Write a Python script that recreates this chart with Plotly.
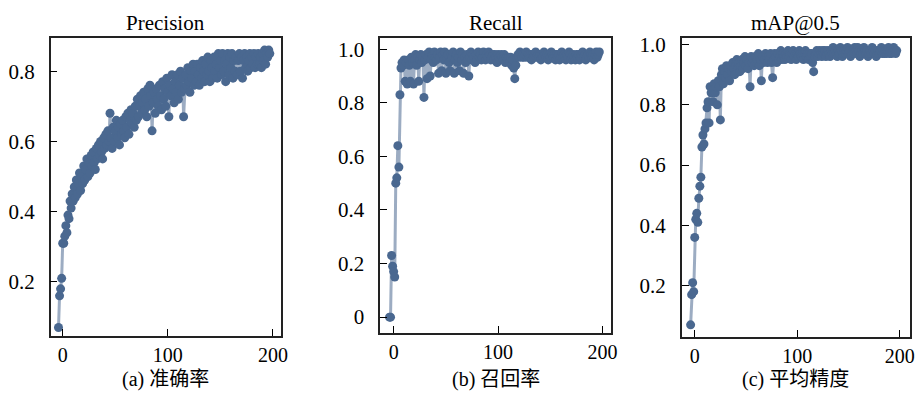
import plotly.graph_objects as go

epochs = list(range(-4, 198))

precision = [
    0.07, 0.16, 0.18, 0.21, 0.31, 0.31, 0.33, 0.36, 0.34, 0.39,
    0.38, 0.43, 0.41, 0.45, 0.43, 0.47, 0.44, 0.49, 0.45, 0.48,
    0.51, 0.46, 0.50, 0.48, 0.53, 0.49, 0.52, 0.55, 0.50, 0.54,
    0.51, 0.56, 0.53, 0.57, 0.54, 0.52, 0.58, 0.55, 0.59, 0.56,
    0.60, 0.57, 0.55, 0.61, 0.58, 0.62, 0.59, 0.63, 0.60, 0.68,
    0.61, 0.58, 0.64, 0.60, 0.63, 0.66, 0.61, 0.64, 0.59, 0.65,
    0.62, 0.66, 0.63, 0.61, 0.67, 0.64, 0.68, 0.62, 0.66, 0.69,
    0.65, 0.68, 0.64, 0.70, 0.66, 0.72, 0.67, 0.70, 0.73, 0.68,
    0.71, 0.74, 0.69, 0.72, 0.67, 0.75, 0.70, 0.76, 0.73, 0.63,
    0.71, 0.74, 0.68, 0.75, 0.72, 0.70, 0.76, 0.73, 0.69, 0.77,
    0.72, 0.75, 0.70, 0.78, 0.74, 0.67, 0.76, 0.73, 0.79, 0.75,
    0.71, 0.77, 0.74, 0.79, 0.72, 0.76, 0.80, 0.74, 0.78, 0.67,
    0.75, 0.79, 0.76, 0.81, 0.77, 0.74, 0.80, 0.78, 0.82, 0.76,
    0.80, 0.77, 0.82, 0.79, 0.76, 0.81, 0.78, 0.83, 0.80, 0.77,
    0.82, 0.79, 0.84, 0.80, 0.77, 0.83, 0.81, 0.78, 0.84, 0.80,
    0.82, 0.78, 0.85, 0.81, 0.83, 0.79, 0.85, 0.80, 0.83, 0.77,
    0.82, 0.85, 0.79, 0.84, 0.81, 0.85, 0.78, 0.83, 0.80, 0.84,
    0.79, 0.83, 0.85, 0.80, 0.84, 0.78, 0.83, 0.85, 0.81, 0.84,
    0.80, 0.83, 0.85, 0.81, 0.84, 0.82, 0.85, 0.81, 0.84, 0.82,
    0.85, 0.82, 0.84, 0.81, 0.85, 0.83, 0.86, 0.82, 0.85, 0.84,
    0.86, 0.85,
]

recall = [
    0.00, 0.00, 0.23, 0.19, 0.17, 0.15, 0.50, 0.52, 0.64, 0.56,
    0.83, 0.93, 0.95, 0.94, 0.96, 0.88, 0.95, 0.87, 0.96, 0.94,
    0.88, 0.97, 0.95, 0.87, 0.96, 0.98, 0.94, 0.97, 0.88, 0.96,
    0.98, 0.95, 0.97, 0.82, 0.96, 0.98, 0.89, 0.97, 0.99, 0.90,
    0.96, 0.98, 0.95, 0.99, 0.97, 0.96, 0.98, 0.91, 0.97, 0.99,
    0.92, 0.98, 0.96, 0.99, 0.91, 0.97, 0.98, 0.95, 0.92, 0.98,
    0.97, 0.99, 0.91, 0.96, 0.98, 0.95, 0.97, 0.92, 0.99, 0.96,
    0.98, 0.91, 0.97, 0.95, 0.98, 0.96, 0.90, 0.97, 0.99, 0.96,
    0.98, 0.97, 0.95, 0.98, 0.96, 0.99, 0.97, 0.98, 0.96, 0.97,
    0.99, 0.97, 0.96, 0.98, 0.97, 0.99, 0.98, 0.96, 0.97, 0.98,
    0.96, 0.98, 0.97, 0.95, 0.98, 0.97, 0.96, 0.98, 0.97, 0.96,
    0.98, 0.95, 0.97, 0.96, 0.97, 0.95, 0.97, 0.94, 0.96, 0.93,
    0.89, 0.94, 0.97, 0.98, 0.97, 0.99, 0.98, 0.97, 0.98, 0.97,
    0.98, 0.99, 0.97, 0.98, 0.97, 0.98, 0.96, 0.98, 0.97, 0.98,
    0.99, 0.97, 0.98, 0.97, 0.98, 0.96, 0.98, 0.97, 0.99, 0.98,
    0.97, 0.98, 0.96, 0.98, 0.97, 0.99, 0.98, 0.97, 0.98, 0.96,
    0.98, 0.97, 0.98, 0.96, 0.97, 0.99, 0.97, 0.98, 0.97, 0.96,
    0.98, 0.97, 0.99, 0.98, 0.96, 0.97, 0.98, 0.97, 0.96, 0.98,
    0.97, 0.98, 0.96, 0.97, 0.98, 0.99, 0.97, 0.98, 0.96, 0.97,
    0.98, 0.97, 0.99, 0.98, 0.97, 0.98, 0.96, 0.98, 0.99, 0.97,
    0.98, 0.99,
]

map50 = [
    0.07, 0.17, 0.21, 0.18, 0.36, 0.42, 0.44, 0.41, 0.49, 0.53,
    0.56, 0.66, 0.70, 0.67, 0.72, 0.74, 0.79, 0.81, 0.74, 0.86,
    0.84, 0.86, 0.81, 0.87, 0.84, 0.86, 0.80, 0.88, 0.86, 0.75,
    0.90, 0.92, 0.87, 0.91, 0.89, 0.93, 0.90, 0.92, 0.88, 0.93,
    0.91, 0.94, 0.92, 0.90, 0.93, 0.95, 0.92, 0.94, 0.91, 0.93,
    0.95, 0.92, 0.94, 0.96, 0.93, 0.95, 0.92, 0.94, 0.86, 0.96,
    0.94, 0.95, 0.93, 0.96, 0.94, 0.95, 0.97, 0.93, 0.95, 0.88,
    0.96, 0.94, 0.95, 0.97, 0.96, 0.94, 0.96, 0.95, 0.97, 0.94,
    0.89, 0.95, 0.97, 0.96, 0.94, 0.97, 0.95, 0.96, 0.98, 0.95,
    0.97, 0.96, 0.95, 0.97, 0.96, 0.98, 0.96, 0.97, 0.95, 0.97,
    0.98, 0.96, 0.97, 0.95, 0.97, 0.96, 0.98, 0.97, 0.96, 0.97,
    0.95, 0.97, 0.98, 0.96, 0.97, 0.95, 0.97, 0.96, 0.97, 0.94,
    0.91, 0.96, 0.97, 0.98, 0.96, 0.97, 0.98, 0.97, 0.96, 0.98,
    0.97, 0.98, 0.96, 0.97, 0.98, 0.97, 0.96, 0.98, 0.97, 0.99,
    0.97, 0.98, 0.97, 0.96, 0.98, 0.97, 0.99, 0.98, 0.96, 0.97,
    0.98, 0.97, 0.98, 0.99, 0.97, 0.98, 0.96, 0.97, 0.98, 0.97,
    0.99, 0.98, 0.97, 0.99, 0.98, 0.96, 0.97, 0.98, 0.97, 0.99,
    0.98, 0.97, 0.98, 0.96, 0.97, 0.98, 0.97, 0.99, 0.98, 0.97,
    0.98, 0.96, 0.97, 0.98, 0.97, 0.98, 0.99, 0.97, 0.98, 0.97,
    0.98, 0.97, 0.98, 0.99, 0.97, 0.98, 0.97, 0.98, 0.99, 0.98,
    0.97, 0.98,
]

titles = ["Precision", "Recall", "mAP@0.5"]
captions = ["(a) 准确率", "(b) 召回率", "(c) 平均精度"]
x_ticks = [0, 100, 200]
y_ticks = [
    [0.2, 0.4, 0.6, 0.8],
    [0, 0.2, 0.4, 0.6, 0.8, 1.0],
    [0.2, 0.4, 0.6, 0.8, 1.0],
]
y_ticktext = [
    ["0.2", "0.4", "0.6", "0.8"],
    ["0", "0.2", "0.4", "0.6", "0.8", "1.0"],
    ["0.2", "0.4", "0.6", "0.8", "1.0"],
]
series = [precision, recall, map50]

W, H = 924, 394
x_px = [(51, 283), (383, 616), (687, 917)]
y_px = [(33, 335), (33, 332), (33, 336)]
y_ranges = [(0.046, 0.893), (-0.059, 1.04), (0.03, 1.02)]
x_ranges = [(-11.5, 207.5), (-13, 208.5), (-12.6, 210)]

color = "#4a6890"
font_serif = "Liberation Serif, Noto Sans CJK SC, serif"

fig = go.Figure()
layout = {}
annotations = []
for i in range(3):
    n = "" if i == 0 else str(i + 1)
    fig.add_trace(go.Scatter(
        x=epochs, y=series[i], mode="lines+markers",
        line=dict(color="rgba(74,104,144,0.55)", width=3),
        marker=dict(color=color, size=9, line=dict(width=0)),
        xaxis="x" + n, yaxis="y" + n, showlegend=False,
    ))
    xd = [x_px[i][0] / W, x_px[i][1] / W]
    yd = [1 - y_px[i][1] / H, 1 - y_px[i][0] / H]
    layout["xaxis" + n] = dict(
        domain=xd, range=list(x_ranges[i]), anchor="y" + n,
        tickvals=x_ticks, ticktext=[str(v) for v in x_ticks],
        ticks="inside", ticklen=7, tickwidth=1.2, tickcolor="black",
        ticklabelstandoff=0,
        showline=True, linecolor="#222", linewidth=1.5, mirror=True,
        showgrid=False, zeroline=False,
        tickfont=dict(family=font_serif, size=20, color="black"),
    )
    layout["yaxis" + n] = dict(
        domain=yd, range=list(y_ranges[i]), anchor="x" + n,
        tickvals=y_ticks[i], ticktext=y_ticktext[i],
        ticks="inside", ticklen=7, tickwidth=1.2, tickcolor="black",
        ticklabelstandoff=10,
        showline=True, linecolor="#222", linewidth=1.5, mirror=True,
        showgrid=False, zeroline=False,
        tickfont=dict(family=font_serif, size=21, color="black"),
    )
    cx = (x_px[i][0] + x_px[i][1]) / 2 / W
    annotations.append(dict(
        text=titles[i], x=cx, y=1 - 17 / H, xref="paper", yref="paper",
        showarrow=False, xanchor="center", yanchor="middle",
        font=dict(family=font_serif, size=21, color="black"),
    ))
    annotations.append(dict(
        text=captions[i], x=cx, y=1 - 379 / H, xref="paper", yref="paper",
        showarrow=False, xanchor="center", yanchor="middle",
        font=dict(family=font_serif, size=20, color="black"),
    ))

fig.update_layout(
    width=W, height=H, margin=dict(l=0, r=0, t=0, b=0),
    paper_bgcolor="white", plot_bgcolor="white",
    annotations=annotations, **layout,
)
fig.write_html(
    "out.html",
    config={"displayModeBar": False},
    post_script="document.body.style.margin='0';document.body.style.overflow='hidden';",
)
